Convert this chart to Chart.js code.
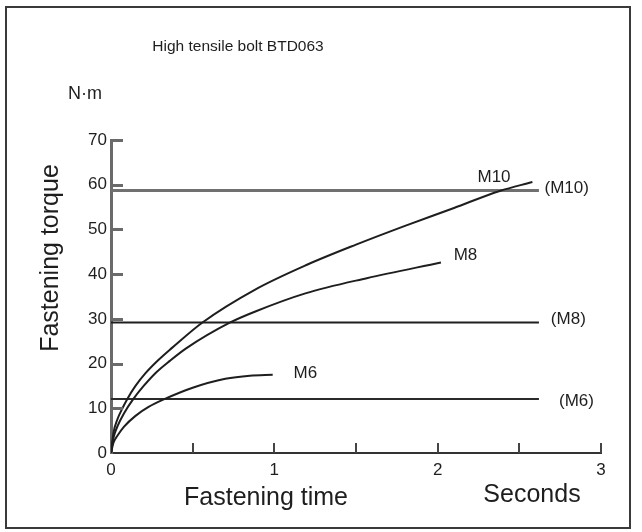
<!DOCTYPE html>
<html>
<head>
<meta charset="utf-8">
<script src="https://cdn.jsdelivr.net/npm/chart.js@4"></script>
<style>
  html, body { margin: 0; padding: 0; background: #fff; }
  #wrap { width: 642px; height: 532px; position: relative; }
</style>
</head>
<body>
<div id="wrap"><canvas id="chart" width="642" height="532"></canvas></div>
<script>
// du lieu doc tu hinh (giay, N·m)
const m10Time = [0, 0.015, 0.04, 0.07, 0.1, 0.15, 0.21, 0.29, 0.37, 0.56, 0.88, 1.2, 1.5, 1.8, 2.1, 2.38, 2.58];
const m10Torque = [0, 4.5, 7.6, 10.0, 12.1, 15.0, 17.8, 20.8, 23.4, 29.2, 36.5, 42.1, 46.6, 50.8, 54.8, 58.6, 60.6];

const m8Time = [0, 0.015, 0.04, 0.08, 0.137, 0.2, 0.27, 0.36, 0.46, 0.73, 0.88, 1.19, 1.566, 2.02];
const m8Torque = [0, 3.4, 6.0, 8.9, 12.1, 15.0, 17.8, 20.6, 23.4, 29.2, 31.6, 35.7, 39.1, 42.6];

const m6Time = [0, 0.015, 0.04, 0.08, 0.15, 0.23, 0.33, 0.5, 0.7, 0.85, 0.99];
const m6Torque = [0, 2.3, 3.9, 5.9, 8.3, 10.3, 12.1, 14.6, 16.6, 17.3, 17.5];

// muc luc xiet tieu chuan (M10), (M8), (M6)
const refTorque = [58.7, 29.2, 12.1];
const refEnd = 2.62;

const curveLabels = ["M10", "M8", "M6"];
const curveLabelT = [2.345, 2.17, 1.19];
const curveLabelV = [61.7, 44.1, 17.9];

const refLabels = ["(M10)", "(M8)", "(M6)"];
const refLabelT = [2.79, 2.8, 2.85];
const refLabelV = [59.3, 30.0, 11.6];

const xTickStep = 0.5;
const yTickStep = 10;

const FONT = "'Liberation Sans', Arial, sans-serif";

function pts(ts, vs) {
  return ts.map((t, i) => ({ x: t, y: vs[i] }));
}

const curveStyle = {
  borderColor: "#1e1e1e",
  borderWidth: 2,
  pointRadius: 0,
  fill: false,
  cubicInterpolationMode: "monotone",
};

// ve khung, tick, chu
const decor = {
  id: "decor",
  afterDatasetsDraw(chart) {
    const ctx = chart.ctx;
    const xs = chart.scales.x;
    const ys = chart.scales.y;
    ctx.save();

    // khung ngoai
    ctx.strokeStyle = "#3a3a3a";
    ctx.lineWidth = 2;
    ctx.strokeRect(6, 7, 624, 521);

    // tick truc y (huong vao trong)
    ctx.strokeStyle = "#6a6a6a";
    ctx.lineWidth = 3;
    ys.ticks.forEach((t) => {
      if (t.value === 0) return;
      const py = Math.round(ys.getPixelForValue(t.value)) + 0.5;
      ctx.beginPath();
      ctx.moveTo(xs.left, py);
      ctx.lineTo(xs.left + 12, py);
      ctx.stroke();
    });

    // tick truc x
    ctx.strokeStyle = "#444";
    ctx.lineWidth = 2;
    xs.ticks.forEach((t) => {
      if (t.value === 0) return;
      const px = Math.round(xs.getPixelForValue(t.value));
      ctx.beginPath();
      ctx.moveTo(px, ys.bottom);
      ctx.lineTo(px, ys.bottom - 10);
      ctx.stroke();
    });

    ctx.fillStyle = "#1e1e1e";
    ctx.textBaseline = "middle";

    // nhan duong cong
    ctx.font = "17px " + FONT;
    ctx.textAlign = "center";
    curveLabels.forEach((s, i) => {
      ctx.fillText(s, xs.getPixelForValue(curveLabelT[i]), ys.getPixelForValue(curveLabelV[i]));
    });
    refLabels.forEach((s, i) => {
      ctx.fillText(s, xs.getPixelForValue(refLabelT[i]), ys.getPixelForValue(refLabelV[i]));
    });

    // tieu de
    ctx.font = "15.5px " + FONT;
    ctx.fillText("High tensile bolt BTD063", 238, 47);

    ctx.font = "18px " + FONT;
    ctx.textAlign = "left";
    ctx.fillText("N·m", 68, 94);

    // ten truc
    ctx.font = "25px " + FONT;
    ctx.textAlign = "center";
    ctx.fillText("Fastening time", 266, 498);
    ctx.fillText("Seconds", 532, 495);

    ctx.translate(51, 258);
    ctx.rotate(-Math.PI / 2);
    ctx.fillText("Fastening torque", 0, 0);

    ctx.restore();
  },
};

const refColors = ["#707070", "#1e1e1e", "#2a2a2a"];
const refWidths = [3, 2, 2];

const datasets = [
  Object.assign({ label: "M10", data: pts(m10Time, m10Torque) }, curveStyle),
  Object.assign({ label: "M8", data: pts(m8Time, m8Torque) }, curveStyle),
  Object.assign({ label: "M6", data: pts(m6Time, m6Torque) }, curveStyle),
];
refTorque.forEach((v, i) => {
  datasets.push({
    label: refLabels[i],
    data: pts([0, refEnd], [v, v]),
    borderColor: refColors[i],
    borderWidth: refWidths[i],
    pointRadius: 0,
    fill: false,
  });
});

new Chart(document.getElementById("chart"), {
  type: "line",
  data: { datasets: datasets },
  options: {
    responsive: false,
    animation: false,
    layout: { padding: { top: 140, left: 71, right: 41, bottom: 49 } },
    plugins: {
      legend: { display: false },
      tooltip: { enabled: false },
      title: { display: false },
    },
    scales: {
      x: {
        type: "linear",
        min: 0,
        max: 3,
        afterFit(scale) { scale.height = 30; },
        grid: { display: false, drawTicks: false },
        border: { display: true, color: "#333", width: 2 },
        ticks: {
          stepSize: xTickStep,
          padding: 7,
          color: "#1e1e1e",
          font: { family: FONT, size: 17 },
          maxRotation: 0,
          autoSkip: false,
          callback: (v) => (Number.isInteger(v) ? String(v) : ""),
        },
      },
      y: {
        type: "linear",
        min: 0,
        max: 70,
        afterFit(scale) { scale.width = 40; },
        grid: { display: false, drawTicks: false },
        border: { display: true, color: "#6a6a6a", width: 3 },
        ticks: {
          stepSize: yTickStep,
          padding: 4,
          color: "#1e1e1e",
          font: { family: FONT, size: 17 },
        },
      },
    },
  },
  plugins: [decor],
});
</script>
</body>
</html>
